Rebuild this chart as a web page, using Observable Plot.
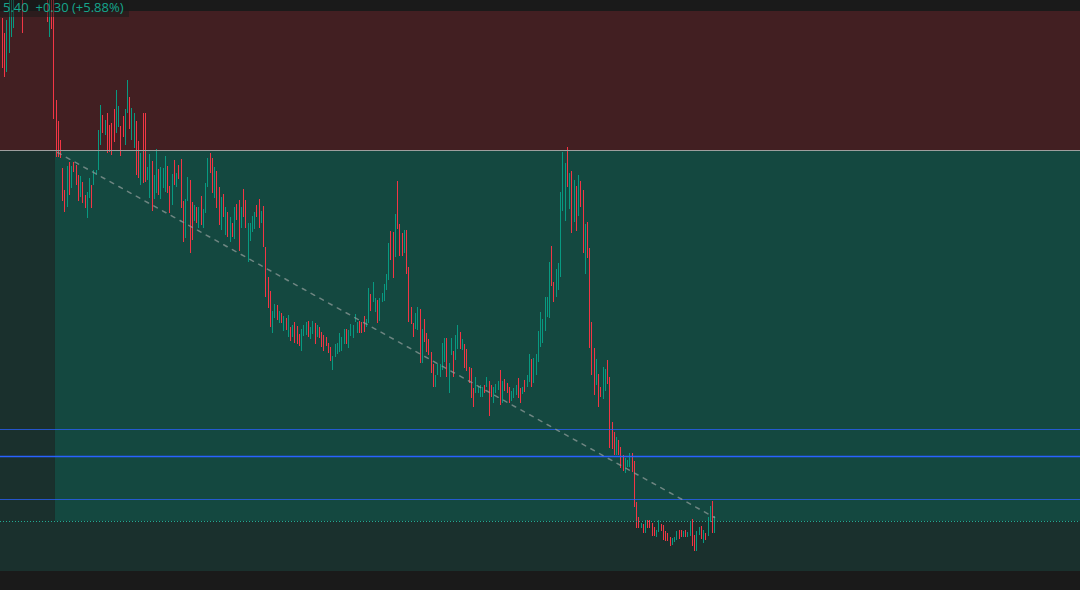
<!DOCTYPE html>
<html><head><meta charset="utf-8">
<script src="https://cdn.jsdelivr.net/npm/d3@7"></script>
<script src="https://cdn.jsdelivr.net/npm/@observablehq/plot@0.6"></script>
<style>
html,body{margin:0;padding:0;background:#1a1a1a;overflow:hidden}
#wrap{position:relative;width:1080px;height:590px}
#legend{position:absolute;left:0;top:0;height:17px;width:129px;background:rgba(26,26,26,0.55);white-space:nowrap;font:13px "Open Sans",sans-serif;color:#16a58c;line-height:15px;padding-left:3px;box-sizing:border-box}
</style></head>
<body><div id="wrap"><div id="chart"></div><div id="legend"></div></div>
<script>
// ---- candle bodies (price) ----
const open = [
10.42,10.27,9.88,10.07,10.23,10.32,10.70,11.20,10.75,10.80,10.65,10.90,11.45,11.00,11.20,11.55,11.35,10.90,11.25,11.10,10.85,10.23,10.75,
10.65,9.60,9.39,9.20,8.92,8.70,8.53,8.98,8.72,8.98,
8.95,8.85,8.63,8.78,8.65,8.42,8.62,8.75,8.75,8.85,
8.90,9.15,9.45,9.25,9.47,9.35,9.37,9.51,9.27,9.33,
9.34,9.44,9.15,9.47,9.63,9.20,9.12,9.39,9.19,8.75,
9.47,9.47,8.80,8.62,8.99,8.61,8.67,8.91,8.61,8.72,
8.68,8.94,8.74,8.55,9.00,8.73,8.95,9.01,8.59,8.22,
8.59,8.80,8.58,8.39,8.53,8.32,8.64,8.32,8.47,8.73,
9.07,9.02,8.62,8.89,8.73,8.30,8.66,8.25,8.48,8.18,
8.37,8.21,8.56,8.60,8.32,8.71,8.60,7.98,8.19,8.28,
8.31,8.55,8.61,8.37,8.54,8.13,7.83,7.69,7.27,7.42,
7.55,7.37,7.47,7.29,7.42,7.23,7.33,7.23,7.38,7.34,
7.26,7.09,7.24,7.25,7.39,7.21,7.26,7.37,7.23,7.33,
7.28,7.25,7.23,7.17,7.13,6.90,7.03,7.06,7.08,7.09,
7.16,7.31,7.12,7.24,7.22,7.38,7.27,7.39,7.38,7.44,
7.33,7.37,7.66,7.58,7.48,7.60,7.39,7.58,7.59,7.70,
7.80,8.29,8.28,8.03,8.79,8.36,8.27,8.07,8.30,7.93,
7.53,7.37,7.31,7.30,7.51,6.97,7.41,7.27,7.21,7.08,
6.96,6.73,6.85,6.83,6.90,6.98,7.22,6.67,7.05,7.09,
7.00,7.11,7.28,7.10,7.16,7.11,6.93,6.92,6.72,6.67,
6.67,6.63,6.63,6.75,6.73,6.79,6.75,6.57,6.67,6.70,
6.90,6.57,6.81,6.77,6.73,6.59,6.62,6.65,6.82,6.72,
6.66,6.80,6.73,6.78,7.01,6.77,6.85,6.98,7.13,7.17,
7.29,7.43,7.42,8.14,7.78,7.63,7.70,7.83,8.49,8.39,
9.13,8.51,8.89,8.38,8.74,8.44,8.79,8.70,7.86,8.38,
8.12,7.38,7.12,6.75,6.86,6.73,6.61,6.69,7.00,6.83,
6.38,6.28,6.05,6.20,6.13,6.05,5.87,5.93,5.93,6.07,
5.99,5.58,5.43,5.32,5.36,5.27,5.40,5.40,5.37,5.33,
5.23,5.28,5.36,5.35,5.29,5.27,5.23,5.15,5.18,5.20,
5.30,5.30,5.23,5.30,5.23,5.24,5.41,5.25,5.09,5.25,
5.34,5.17,5.27,5.24,5.38,5.59,5.27
];
const close = [
9.92,9.83,10.40,10.68,10.72,10.80,11.05,10.85,11.10,10.27,11.00,11.30,11.05,11.40,11.60,11.15,10.95,11.30,10.85,10.70,10.38,10.70,10.31,
9.41,9.03,9.03,9.02,8.59,8.48,8.94,8.65,8.94,8.88,
8.75,8.59,8.84,8.57,8.52,8.68,8.82,8.52,8.90,8.90,
9.30,9.55,9.27,9.40,9.07,9.08,9.05,9.18,9.70,9.54,
9.04,9.23,9.51,9.80,9.31,9.52,9.47,8.85,8.82,9.07,
8.77,8.78,8.93,9.06,8.49,8.85,9.11,8.65,8.93,8.92,
9.04,8.67,8.47,8.86,8.75,8.87,8.81,8.52,8.18,8.61,
8.83,8.07,8.20,8.55,8.37,8.53,8.35,8.51,8.77,9.02,
8.87,8.67,8.93,8.52,8.35,8.63,8.43,8.53,8.23,8.43,
8.23,8.53,8.40,8.09,8.53,8.43,8.32,8.37,8.37,8.44,
8.48,8.43,8.32,8.49,8.13,7.63,7.52,7.33,7.49,7.56,
7.40,7.49,7.37,7.44,7.30,7.45,7.19,7.35,7.17,7.16,
7.14,7.31,7.35,7.38,7.23,7.33,7.39,7.16,7.35,7.22,
7.13,7.09,7.14,7.07,6.99,7.04,7.16,7.17,7.27,7.23,
7.31,7.16,7.30,7.36,7.35,7.46,7.38,7.27,7.27,7.28,
7.41,7.72,7.49,7.78,7.62,7.37,7.62,7.67,7.76,7.86,
8.17,8.00,7.82,8.46,8.31,8.04,8.04,8.30,7.86,7.38,
7.36,7.23,7.47,7.53,6.97,7.31,7.18,7.08,7.05,6.87,
6.73,6.85,6.96,6.96,7.17,7.22,6.83,6.97,7.22,6.83,
7.25,7.35,7.11,7.21,6.92,6.89,6.77,6.62,6.53,6.83,
6.74,6.75,6.73,6.67,6.83,6.44,6.63,6.73,6.76,6.79,
6.55,6.79,6.69,6.67,6.57,6.69,6.72,6.75,6.62,6.57,
6.73,6.68,6.85,7.06,6.73,7.02,7.06,7.29,7.48,7.41,
7.63,7.63,7.98,7.74,7.58,7.91,7.97,8.68,9.08,8.97,
8.73,8.87,8.27,8.80,8.29,8.85,8.53,8.07,8.36,8.02,
7.12,6.85,6.65,7.01,6.53,6.63,6.93,6.91,6.76,6.12,
6.11,6.05,6.23,6.05,5.92,5.89,6.02,6.00,6.07,5.88,
5.53,5.32,5.32,5.37,5.27,5.40,5.32,5.32,5.24,5.24,
5.30,5.40,5.29,5.20,5.19,5.19,5.14,5.22,5.23,5.29,
5.21,5.23,5.29,5.23,5.28,5.39,5.14,5.09,5.29,5.33,
5.21,5.30,5.20,5.43,5.54,5.27,5.44
];

// ---- position tool zones (price / bar index) ----
const zoneNames  = ["chart", "stop", "target"];
const zoneTop    = [9.10, 10.49, 9.10];
const zoneBottom = [4.89, 9.10, 5.39];
const zoneStart  = [-0.87, -0.87, 23.76];
const zoneEnd    = [482.8, 482.8, 482.8];

// ---- horizontal levels ----
const entryPrice = [9.10];
const alertPrices = [6.31, 5.61];
const mainAlertPrice = [6.04];
const targetPrice = [5.39];

// ---- trend line ----
const trendBars = [24.7, 318.9];
const trendPrices = [9.08, 5.43];

// ---- header ----
const headerText = "5.40  +0.30 (+5.88%)";

const candles = open.map((o, i) => ({bar: i, open: o, close: close[i]}));
const zoneFill = {chart: "#1a302d", stop: "#421f22", target: "#144840"};
const zones = zoneNames.map((n, i) => ({name: n, top: zoneTop[i], bottom: zoneBottom[i], start: zoneStart[i], end: zoneEnd[i]}));
const trend = trendBars.map((b, i) => ({bar: b, price: trendPrices[i]}));

const UP = "#089981", DOWN = "#f23645";

const chart = Plot.plot({
  width: 1080, height: 590,
  marginTop: 0, marginRight: 0, marginBottom: 0, marginLeft: 0,
  x: {type: "linear", domain: [-0.87, 482.8], axis: null},
  y: {type: "linear", domain: [4.70, 10.60], axis: null},
  style: {background: "#1a1a1a", overflow: "hidden"},
  marks: [
    Plot.rect(zones, {x1: "start", x2: "end", y1: "bottom", y2: "top", fill: d => zoneFill[d.name]}),
    Plot.ruleX(candles, {x: "bar", y1: "open", y2: "close", stroke: d => d.close >= d.open ? UP : DOWN, strokeWidth: 1, shapeRendering: "crispEdges", clip: true}),
    Plot.ruleY(entryPrice, {y: d => d, stroke: "#9e9e9e", strokeWidth: 1}),
    Plot.ruleY(alertPrices, {y: d => d, stroke: "#2962ff", strokeWidth: 1, strokeOpacity: 0.75}),
    Plot.ruleY(mainAlertPrice, {y: d => d, stroke: "#2962ff", strokeWidth: 1.3}),
    Plot.ruleY(targetPrice, {y: d => d, stroke: "#22ab94", strokeWidth: 1, strokeDasharray: "1,2"}),
    Plot.line(trend, {x: "bar", y: "price", stroke: "#8c9a97", strokeOpacity: 0.75, strokeWidth: 1.5, strokeDasharray: "4,6"})
  ]
});
document.getElementById("chart").appendChild(chart);
document.getElementById("legend").textContent = headerText.replace(/ /g, "\u00a0");
</script>
</body></html>
